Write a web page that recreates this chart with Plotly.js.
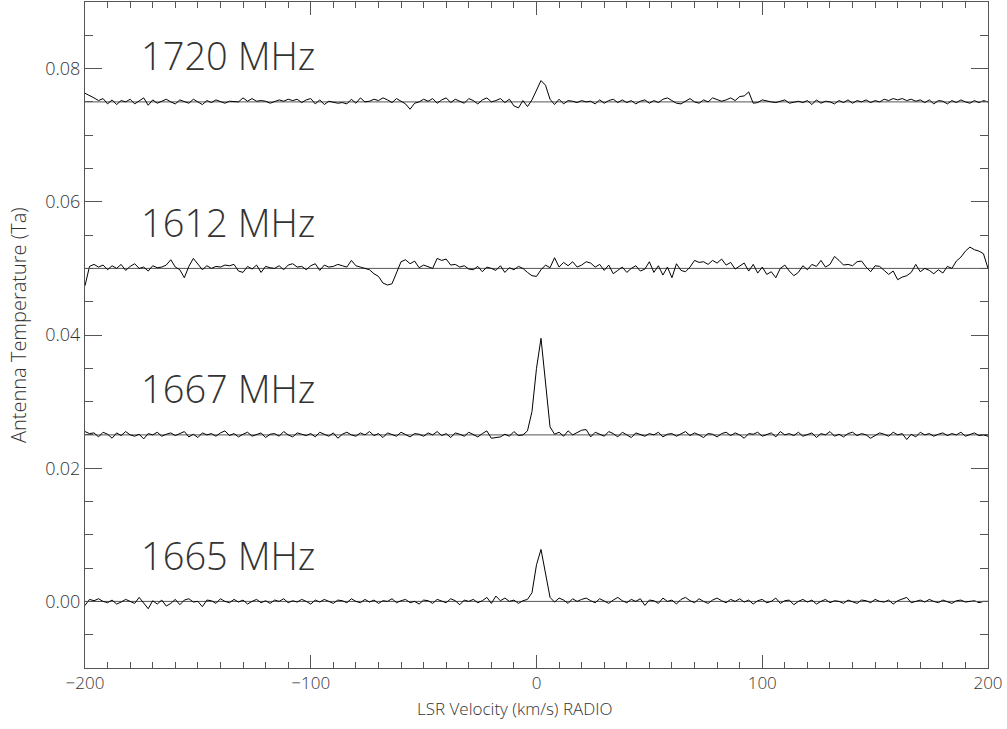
<!DOCTYPE html>
<html>
<head>
<meta charset="utf-8">
<script src="https://cdn.plot.ly/plotly-3.0.1.min.js"></script>
<style>html,body{margin:0;padding:0;background:#fff;}#chart{width:1007px;height:729px;}</style>
</head>
<body>
<div id="chart"></div>
<script>
// LSR velocity channels (km/s)
const velocity = [
-200,-198,-196,-194,-192,-190,-188,-186,-184,-182,
-180,-178,-176,-174,-172,-170,-168,-166,-164,-162,
-160,-158,-156,-154,-152,-150,-148,-146,-144,-142,
-140,-138,-136,-134,-132,-130,-128,-126,-124,-122,
-120,-118,-116,-114,-112,-110,-108,-106,-104,-102,
-100,-98,-96,-94,-92,-90,-88,-86,-84,-82,
-80,-78,-76,-74,-72,-70,-68,-66,-64,-62,
-60,-58,-56,-54,-52,-50,-48,-46,-44,-42,
-40,-38,-36,-34,-32,-30,-28,-26,-24,-22,
-20,-18,-16,-14,-12,-10,-8,-6,-4,-2,
0,2,4,6,8,10,12,14,16,18,
20,22,24,26,28,30,32,34,36,38,
40,42,44,46,48,50,52,54,56,58,
60,62,64,66,68,70,72,74,76,78,
80,82,84,86,88,90,92,94,96,98,
100,102,104,106,108,110,112,114,116,118,
120,122,124,126,128,130,132,134,136,138,
140,142,144,146,148,150,152,154,156,158,
160,162,164,166,168,170,172,174,176,178,
180,182,184,186,188,190,192,194,196,198,
200];

// Spectra: antenna temperature relative to each baseline, in mK
const ta1720 = [
1.3,1.0,0.6,0.2,0.5,-0.3,0.3,-0.4,0.2,0.0,
0.4,-0.3,0.2,0.6,-0.5,0.3,-0.2,0.1,0.4,0.0,
-0.3,0.3,0.1,-0.2,0.4,0.0,-0.4,0.2,-0.1,0.3,
0.0,-0.2,0.1,0.0,0.0,0.6,0.1,0.5,0.1,0.2,
0.1,-0.2,0.0,0.3,0.1,0.4,0.2,0.4,-0.1,0.3,
0.5,-0.3,0.3,-0.4,0.1,0.0,-0.2,-0.1,-0.3,0.4,
-0.2,0.6,0.0,0.1,0.4,0.2,0.6,0.3,-0.1,0.5,
0.1,-0.3,-1.1,-0.2,0.0,0.4,0.1,0.5,-0.2,0.3,
0.6,-0.1,0.4,0.1,-0.2,0.5,0.2,-0.3,0.3,0.6,
0.0,0.2,0.5,-0.1,0.4,-0.6,-0.9,0.2,-0.7,0.3,
1.8,3.2,2.5,0.4,-0.4,0.4,-0.3,0.2,0.1,-0.1,
0.2,0.0,0.1,-0.3,0.3,-0.2,0.2,0.4,-0.1,0.3,
-0.1,0.2,-0.3,0.1,0.3,-0.2,0.2,-0.1,0.4,0.6,
0.2,-0.2,-0.3,0.1,0.5,0.0,-0.2,0.3,0.0,0.6,
0.4,0.1,0.3,0.6,0.2,0.8,0.9,1.5,-0.2,-0.1,
0.3,0.1,0.0,-0.1,0.1,0.3,-0.2,0.0,0.1,-0.1,
0.2,-0.4,0.3,-0.2,0.1,0.0,-0.3,0.2,-0.1,0.3,
-0.2,0.2,0.0,0.3,-0.1,0.2,0.0,0.4,0.2,0.5,
0.3,0.5,0.2,0.4,0.1,0.3,-0.1,0.3,-0.3,0.2,
0.1,-0.3,0.2,-0.1,0.3,0.0,-0.2,0.2,-0.1,0.2,
0.0];

const ta1612 = [
-2.6,0.3,0.6,0.2,0.5,-0.2,0.4,0.0,0.6,-0.3,
0.3,0.7,0.0,0.2,-0.4,0.4,0.1,0.2,0.5,1.3,
0.2,-0.2,-1.4,0.3,1.5,0.6,-0.2,0.4,0.0,0.3,
0.2,0.5,0.4,0.6,-0.4,-0.6,0.3,-0.1,0.5,-0.6,
0.3,0.1,0.0,0.4,-0.2,0.5,0.7,0.2,0.3,-0.2,
0.4,0.7,-0.3,0.5,0.2,0.3,0.6,0.4,0.2,1.2,
0.4,0.2,0.0,-0.2,-0.8,-1.2,-2.2,-2.5,-2.3,-0.6,
1.0,1.3,0.7,1.1,0.1,0.5,0.3,0.0,1.5,1.2,
1.4,0.5,0.6,0.2,0.4,-0.1,-0.2,0.3,-0.5,0.2,
0.0,-0.3,0.4,-0.6,0.1,-0.2,0.3,0.0,-0.6,-1.1,
-1.2,-0.2,0.5,0.1,1.6,0.2,0.9,0.4,1.0,0.2,
0.5,1.0,0.8,0.2,0.6,-0.3,0.5,-0.8,-0.3,0.2,
-0.6,0.0,0.4,-0.4,-0.1,1.0,-0.6,0.4,-1.0,0.2,
-1.4,0.7,-0.3,-0.5,0.2,1.2,0.9,1.0,0.6,1.2,
0.8,1.4,0.5,0.9,-0.1,0.3,0.8,-0.4,0.6,-0.7,
0.2,-0.9,-0.5,-1.4,0.0,0.5,-0.4,-1.1,-0.6,0.4,
-0.2,0.6,0.3,1.2,0.2,0.6,1.8,1.2,0.5,0.6,
0.4,1.0,1.1,0.2,-0.5,0.4,0.3,-0.3,-0.9,-0.4,
-1.7,-1.3,-1.1,-0.6,0.6,-0.5,0.0,-0.3,-0.8,-0.2,
-0.7,0.3,0.0,1.1,1.7,2.6,3.2,2.8,2.6,2.2,
0.0];

const ta1667 = [
0.5,0.2,0.3,-0.3,0.4,0.1,-0.5,0.3,-0.1,0.5,
0.0,-0.2,0.1,-0.6,0.2,0.0,0.4,-0.2,0.1,0.3,
-0.1,0.2,0.5,-0.3,0.1,-0.4,0.3,0.0,0.2,-0.2,
0.3,0.6,-0.1,0.2,-0.3,0.1,0.4,-0.2,0.0,0.3,
-0.4,0.1,0.2,-0.2,0.5,0.0,-0.3,0.3,0.1,-0.1,
0.2,-0.3,0.4,0.1,-0.2,0.3,-0.5,0.1,0.4,0.0,
-0.2,0.3,0.0,0.5,-0.1,0.2,-0.4,0.3,0.1,-0.2,
0.4,0.0,-0.3,0.2,0.1,-0.2,0.3,0.0,0.5,-0.1,
0.2,-0.4,0.3,0.1,-0.2,0.4,0.0,-0.3,0.2,0.6,
-0.5,-0.4,-0.3,0.1,-0.2,0.5,-0.1,0.0,0.6,3.5,
10.0,14.5,7.5,1.2,0.1,0.4,-0.2,0.6,0.0,0.3,
0.7,0.8,-0.3,0.4,0.1,-0.2,0.5,0.2,-0.3,0.4,
0.0,-0.4,0.3,0.1,-0.2,0.2,0.0,0.4,-0.3,0.1,
0.2,-0.2,0.1,0.5,-0.1,0.3,0.0,-0.4,0.2,0.1,
-0.3,0.2,0.4,-0.1,0.3,0.0,-0.5,0.2,0.1,0.4,
-0.2,0.1,0.3,-0.3,0.5,0.0,0.2,-0.1,0.4,-0.2,
0.1,0.3,-0.4,0.2,0.0,0.5,-0.2,0.1,-0.3,0.2,
0.4,-0.1,0.2,0.0,-0.5,-0.1,0.3,0.1,-0.2,0.4,
0.0,0.2,-0.7,0.1,-0.3,0.4,0.0,0.2,-0.2,0.1,
0.3,-0.1,0.2,0.0,0.4,-0.2,0.1,0.3,-0.1,0.0,
-0.2];

const ta1665 = [
-0.6,0.3,0.1,0.4,0.0,-0.2,0.2,-0.4,-0.1,0.3,
0.0,-0.3,0.6,-0.2,-1.1,0.1,-0.4,0.2,-0.7,-0.3,
0.3,-0.5,0.2,0.4,-0.1,0.0,-0.8,0.2,0.1,-0.3,
0.4,0.0,-0.2,0.3,-0.1,0.2,-0.4,0.0,0.3,-0.2,
0.1,-0.3,0.2,0.0,0.4,-0.2,0.1,-0.1,0.3,0.0,
-0.4,0.2,-0.1,0.3,0.0,-0.3,0.2,0.1,-0.2,0.4,
0.0,-0.2,0.3,-0.1,0.2,-0.3,0.1,0.0,0.4,-0.2,
0.1,0.3,-0.2,0.0,-0.4,0.2,0.1,-0.3,0.3,0.0,
-0.2,0.4,0.1,-0.5,0.2,0.0,0.3,-0.2,0.1,0.6,
-0.3,0.8,0.1,0.5,0.0,0.2,-0.3,0.1,0.3,1.3,
5.5,7.8,4.0,0.6,-0.1,0.5,0.2,-0.3,0.4,0.0,
0.3,0.5,0.1,-0.2,0.4,0.0,-0.3,0.2,0.6,0.1,
-0.2,0.3,0.0,0.4,-0.6,0.2,0.1,-0.3,0.5,0.0,
0.2,-0.4,0.3,0.6,0.1,-0.2,0.4,0.0,-0.3,0.2,
0.5,0.1,-0.2,0.3,0.0,0.4,-0.1,0.2,-0.4,0.1,
0.3,-0.2,0.0,0.5,-0.3,0.1,0.2,-0.5,0.0,0.3,
-0.1,0.2,-0.4,0.0,0.3,-0.2,0.1,0.0,-0.3,0.2,
0.0,-0.3,0.2,0.1,-0.2,0.3,0.0,-0.1,0.2,-0.4,
0.1,0.3,0.6,-0.2,0.0,0.2,-0.1,0.3,0.0,-0.2,
0.2,0.0,-0.3,0.1,0.2,-0.1,0.0,0.1,-0.2,0.0,
0.0];

// Line names and their vertical offsets (Ta baseline)
const lineNames = ['1665 MHz', '1667 MHz', '1612 MHz', '1720 MHz'];
const baselines = [0.000, 0.025, 0.050, 0.075];
const spectra = [ta1665, ta1667, ta1612, ta1720];
const xTitle = 'LSR Velocity (km/s) RADIO';
const yTitle = 'Antenna Temperature (Ta)';

const FAMILY = 'Open Sans, DejaVu Sans, sans-serif';
const traces = [];
const shapes = [];
const annotations = [];
for (let k = 0; k < spectra.length; k++) {
  traces.push({
    x: velocity,
    y: spectra[k].map(v => baselines[k] + v / 1000),
    type: 'scatter', mode: 'lines',
    line: {color: '#000', width: 1},
    hoverinfo: 'skip', showlegend: false
  });
  shapes.push({
    type: 'line', xref: 'x', yref: 'y',
    x0: velocity[0], x1: velocity[velocity.length - 1],
    y0: baselines[k], y1: baselines[k],
    line: {color: '#555', width: 1}, layer: 'below'
  });
  annotations.push({
    x: -176, y: baselines[k] + 0.007, xref: 'x', yref: 'y',
    xanchor: 'left', yanchor: 'middle', showarrow: false,
    text: lineNames[k],
    font: {family: FAMILY, size: 38, color: '#333', weight: 300}
  });
}
// axis titles (placed as in the reference)
annotations.push({
  text: xTitle, xref: 'paper', yref: 'paper', x: 0.476, y: -0.061,
  xanchor: 'center', yanchor: 'middle', showarrow: false,
  font: {family: FAMILY, size: 17, color: '#333', weight: 300}
});
annotations.push({
  text: yTitle, xref: 'paper', yref: 'paper', x: -0.0742, y: 0.515,
  xanchor: 'center', yanchor: 'middle', showarrow: false, textangle: -90,
  font: {family: FAMILY, size: 20, color: '#333', weight: 300}
});

const tickFont = {family: FAMILY, size: 18, color: '#333', weight: 300};

const layout = {
  width: 1007, height: 729,
  margin: {l: 85, r: 19, t: 2, b: 61},
  paper_bgcolor: '#fff', plot_bgcolor: '#fff',
  showlegend: false,
  xaxis: {
    range: [-200, 200], dtick: 100, tick0: 0,
    ticks: 'inside', ticklen: 13, tickcolor: '#555', tickwidth: 1,
    minor: {dtick: 10, ticks: 'inside', ticklen: 6, tickcolor: '#555', tickwidth: 1},
    showline: true, linecolor: '#555', linewidth: 1, mirror: 'allticks',
    showgrid: false, zeroline: false,
    tickfont: {family: FAMILY, size: 17, color: '#333', weight: 300}
  },
  yaxis: {
    range: [-0.01, 0.09], dtick: 0.02, tick0: 0, tickformat: '.2f',
    ticks: 'inside', ticklen: 17, tickcolor: '#555', tickwidth: 1,
    minor: {dtick: 0.005, ticks: 'inside', ticklen: 8, tickcolor: '#555', tickwidth: 1},
    showline: true, linecolor: '#555', linewidth: 1, mirror: 'allticks',
    showgrid: false, zeroline: false,
    tickfont: tickFont
  },
  shapes: shapes,
  annotations: annotations
};

Plotly.newPlot('chart', traces, layout, {displayModeBar: false, staticPlot: true});
</script>
</body>
</html>
